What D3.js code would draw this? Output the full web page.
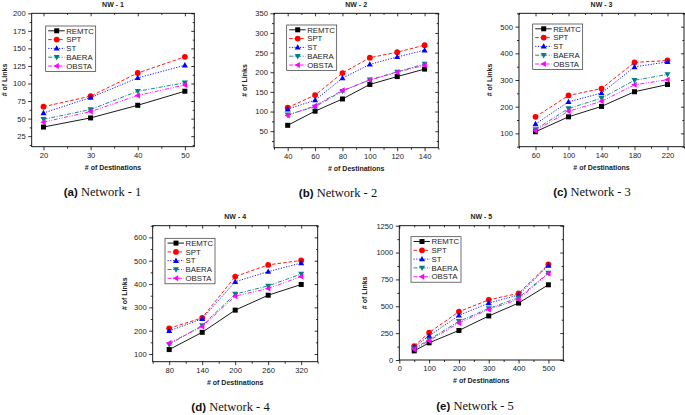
<!DOCTYPE html>
<html><head><meta charset="utf-8">
<script src="https://cdn.jsdelivr.net/npm/d3@7"></script>
<style>
html,body{margin:0;padding:0;background:#fff;}
svg{display:block;}
</style>
</head><body>
<svg id="chart" width="685" height="415"></svg>
<script>
// ---------- DATA ----------
const seriesNames = ["REMTC", "SPT", "ST", "BAERA", "OBSTA"];

const nw1Destinations = [20, 30, 40, 50];
const nw1REMTC = [38, 51, 69, 89];
const nw1SPT   = [67, 82, 115, 138];
const nw1ST    = [58, 80, 108, 126];
const nw1BAERA = [49, 63, 89, 101];
const nw1OBSTA = [45, 60, 83, 98];

const nw2Destinations = [40, 60, 80, 100, 120, 140];
const nw2REMTC = [65, 101, 132, 169, 189, 208];
const nw2SPT   = [110, 142, 198, 237, 251, 269];
const nw2ST    = [106, 129, 185, 220, 239, 256];
const nw2BAERA = [92, 112, 152, 181, 201, 221];
const nw2OBSTA = [90, 115, 154, 180, 200, 218];

const nw3Destinations = [60, 100, 140, 180, 220];
const nw3REMTC = [106, 162, 201, 256, 283];
const nw3SPT   = [162, 242, 268, 366, 373];
const nw3ST    = [135, 218, 251, 349, 368];
const nw3BAERA = [115, 193, 232, 299, 321];
const nw3OBSTA = [110, 183, 220, 282, 301];

const nw4Destinations = [80, 140, 200, 260, 320];
const nw4REMTC = [119, 193, 288, 352, 398];
const nw4SPT   = [210, 255, 432, 482, 501];
const nw4ST    = [199, 251, 410, 453, 490];
const nw4BAERA = [141, 222, 357, 392, 443];
const nw4OBSTA = [147, 218, 348, 381, 432];

const nw5Destinations = [50, 100, 200, 300, 400, 500];
const nw5REMTC = [85, 160, 275, 410, 530, 700];
const nw5SPT   = [130, 255, 450, 560, 620, 890];
const nw5ST    = [120, 225, 415, 530, 605, 880];
const nw5BAERA = [105, 190, 360, 480, 580, 810];
const nw5OBSTA = [100, 180, 345, 470, 565, 805];

const panelTitles   = ["NW - 1", "NW - 2", "NW - 3", "NW - 4", "NW - 5"];
const captionLetters = ["(a)", "(b)", "(c)", "(d)", "(e)"];
const captionTexts   = ["Network - 1", "Network - 2", "Network - 3", "Network - 4", "Network - 5"];
const xTicks = [[20,30,40,50],[40,60,80,100,120,140],[60,100,140,180,220],[80,140,200,260,320],[0,100,200,300,400,500]];
const yTicks = [[25,50,75,100,125,150,175,200],[50,100,150,200,250,300,350],[100,200,300,400,500],[100,200,300,400,500,600],[0,250,500,750,1000,1250]];
const xLabel = "# of Destinations";
const yLabel = "# of Links";

// ---------- LAYOUT / STYLE ----------
const panels = [
  {x: nw1Destinations, ys: [nw1REMTC,nw1SPT,nw1ST,nw1BAERA,nw1OBSTA], L:31.7, R:194.3, T:13.3, B:146.7, xd:[17.5,52], yd:[10,200], leg:[45.7,26], cap:102.5, ylab:5},
  {x: nw2Destinations, ys: [nw2REMTC,nw2SPT,nw2ST,nw2BAERA,nw2OBSTA], L:274, R:438.3, T:13.3, B:147.7, xd:[30,150], yd:[8,350], leg:[286.7,25], cap:338, ylab:245},
  {x: nw3Destinations, ys: [nw3REMTC,nw3SPT,nw3ST,nw3BAERA,nw3OBSTA], L:519, R:684, T:13.3, B:146.7, xd:[40,240], yd:[50,550], leg:[532.7,24], cap:592, ylab:490},
  {x: nw4Destinations, ys: [nw4REMTC,nw4SPT,nw4ST,nw4BAERA,nw4OBSTA], L:152.7, R:317.7, T:225.7, B:361.7, xd:[50,350], yd:[67,650], leg:[165,238.3], cap:230.5, ylab:125},
  {x: nw5Destinations, ys: [nw5REMTC,nw5SPT,nw5ST,nw5BAERA,nw5OBSTA], L:399.3, R:563.3, T:225.7, B:360, xd:[0,550], yd:[0,1250], leg:[411,236.7], cap:475, ylab:365}
];
const colors = ["#000000", "#ff0000", "#0000ff", "#008080", "#ff00ff"];
const dashes = [null, "3.5,2", "1.2,1.5", "4,1.5,1,1.5", "4,1.5,1,1.5,1,1.5"];

const svg = d3.select("#chart");
const SANS = "'Liberation Sans', Arial, sans-serif";
const SERIF = "'Liberation Serif', 'Times New Roman', serif";
const fmt = d3.format("d");

function drawMarker(g, i, cx, cy) {
  const c = colors[i];
  if (i === 0) {
    g.append("rect").attr("x", cx-2.5).attr("y", cy-2.5).attr("width", 5).attr("height", 5).attr("fill", c);
  } else if (i === 1) {
    g.append("circle").attr("cx", cx).attr("cy", cy).attr("r", 2.9).attr("fill", c);
  } else if (i === 2) {
    g.append("path").attr("d", `M${cx},${cy-3.2}L${cx+3},${cy+2.2}L${cx-3},${cy+2.2}Z`).attr("fill", c);
  } else if (i === 3) {
    g.append("path").attr("d", `M${cx},${cy+3.2}L${cx+3},${cy-2.2}L${cx-3},${cy-2.2}Z`).attr("fill", c);
  } else {
    g.append("path").attr("d", `M${cx-3.2},${cy}L${cx+2.2},${cy-3}L${cx+2.2},${cy+3}Z`).attr("fill", c);
  }
}

panels.forEach((p, k) => {
  const g = svg.append("g");
  const x = d3.scaleLinear().domain(p.xd).range([p.L, p.R]);
  const y = d3.scaleLinear().domain(p.yd).range([p.B, p.T]);
  const xt = xTicks[k], yt = yTicks[k];
  const xStep = xt[1]-xt[0], yStep = yt[1]-yt[0];
  const xMinor = [], yMinor = [];
  for (let v = xt[0]-xStep/2; v <= p.xd[1]; v += xStep/2) if (v >= p.xd[0] && !xt.includes(v)) xMinor.push(v);
  for (let v = yt[0]-yStep/2; v <= p.yd[1]; v += yStep/2) if (v >= p.yd[0] && !yt.includes(v)) yMinor.push(v);

  g.append("g").attr("transform", `translate(0,${p.B})`)
    .call(d3.axisBottom(x).tickValues(xt).tickFormat(fmt).tickSize(3.5).tickPadding(2.5).tickSizeOuter(0));
  g.append("g").attr("transform", `translate(0,${p.B})`)
    .call(d3.axisBottom(x).tickValues(xMinor).tickSize(2).tickFormat("").tickSizeOuter(0));
  g.append("g").attr("transform", `translate(${p.L},0)`)
    .call(d3.axisLeft(y).tickValues(yt).tickFormat(fmt).tickSize(3.5).tickPadding(2.5).tickSizeOuter(0));
  g.append("g").attr("transform", `translate(${p.L},0)`)
    .call(d3.axisLeft(y).tickValues(yMinor).tickSize(2).tickFormat("").tickSizeOuter(0));
  g.append("g").attr("transform", `translate(0,${p.T})`)
    .call(d3.axisTop(x).tickValues(xt).tickSize(-3).tickFormat("").tickSizeOuter(0));
  g.append("g").attr("transform", `translate(0,${p.T})`)
    .call(d3.axisTop(x).tickValues(xMinor).tickSize(-1.6).tickFormat("").tickSizeOuter(0));
  g.append("g").attr("transform", `translate(${p.R},0)`)
    .call(d3.axisRight(y).tickValues(yt).tickSize(-3).tickFormat("").tickSizeOuter(0));
  g.append("g").attr("transform", `translate(${p.R},0)`)
    .call(d3.axisRight(y).tickValues(yMinor).tickSize(-1.6).tickFormat("").tickSizeOuter(0));
  g.selectAll(".domain").remove();
  g.selectAll(".tick line").attr("stroke", "#000").attr("stroke-width", 0.8);
  g.selectAll(".tick text").attr("font-family", SANS).attr("font-size", 7.6).attr("fill", "#222");

  g.append("rect").attr("x", p.L).attr("y", p.T).attr("width", p.R-p.L).attr("height", p.B-p.T)
    .attr("fill", "none").attr("stroke", "#000").attr("stroke-width", 0.9);

  const line = d3.line().x(d => x(d[0])).y(d => y(d[1]));
  p.ys.forEach((vals, i) => {
    const pts = p.x.map((xv, j) => [xv, vals[j]]);
    g.append("path").attr("d", line(pts)).attr("fill", "none").attr("stroke", colors[i])
      .attr("stroke-width", 0.9).attr("stroke-dasharray", dashes[i]);
  });
  p.ys.forEach((vals, i) => {
    p.x.forEach((xv, j) => drawMarker(g, i, x(xv), y(vals[j])));
  });

  const lx = p.leg[0], ly = p.leg[1];
  g.append("rect").attr("x", lx).attr("y", ly).attr("width", 50).attr("height", 45.5)
    .attr("fill", "#fff").attr("stroke", "#333").attr("stroke-width", 0.7);
  seriesNames.forEach((name, i) => {
    const yy = ly + 4.8 + i * 8.8;
    g.append("line").attr("x1", lx+2.5).attr("x2", lx+19).attr("y1", yy).attr("y2", yy)
      .attr("stroke", colors[i]).attr("stroke-width", 0.9).attr("stroke-dasharray", dashes[i]);
    drawMarker(g, i, lx+11, yy);
    g.append("text").attr("x", lx+20.5).attr("y", yy).attr("dy", "0.35em")
      .attr("font-family", SANS).attr("font-size", 7.8).attr("fill", "#222").text(name);
  });

  const cx = (p.L + p.R) / 2;
  g.append("text").attr("x", cx).attr("y", p.T - 6.3).attr("text-anchor", "middle")
    .attr("font-family", SANS).attr("font-weight", "bold").attr("font-size", 7).attr("fill", "#222").text(panelTitles[k]);
  g.append("text").attr("x", cx).attr("y", p.B + 22.8).attr("text-anchor", "middle")
    .attr("font-family", SANS).attr("font-weight", "bold").attr("font-size", 7).attr("fill", "#222").text(xLabel);
  g.append("text").attr("transform", `translate(${p.ylab},${(p.T+p.B)/2}) rotate(-90)`)
    .attr("text-anchor", "middle").attr("dy", "0.35em")
    .attr("font-family", SANS).attr("font-weight", "bold").attr("font-size", 7).attr("fill", "#222").text(yLabel);

  const cap = g.append("text").attr("x", p.cap).attr("y", p.B + 49.5).attr("text-anchor", "middle").attr("fill", "#111");
  cap.append("tspan").attr("font-family", SANS).attr("font-weight", "bold").attr("font-size", 11.5).text(captionLetters[k] + " ");
  cap.append("tspan").attr("font-family", SERIF).attr("font-size", 12.5).text(captionTexts[k]);
});
</script>
</body></html>
